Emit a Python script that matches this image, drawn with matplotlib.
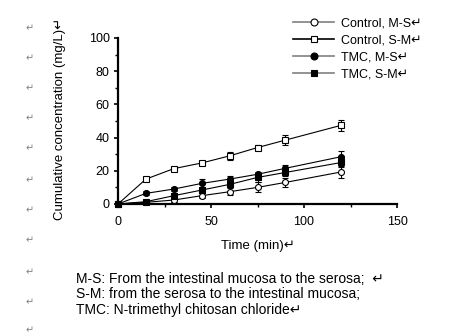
import matplotlib
matplotlib.use('Agg')
import matplotlib.pyplot as plt
from matplotlib.lines import Line2D
from matplotlib.ticker import MultipleLocator

plt.rcParams['font.family'] = ['Liberation Sans', 'DejaVu Sans']
plt.rcParams['font.size'] = 9

# Datos
tiempo = [0, 15, 30, 45, 60, 75, 90, 120]
control_ms = [0, 1.0, 2.4, 5.0, 7.4, 10.0, 13.0, 19.3]
control_ms_err = [0, 0.5, 1.0, 1.5, 2.0, 3.0, 2.5, 3.5]
control_sm = [0, 15.0, 21.3, 24.7, 29.0, 34.0, 38.5, 47.4]
control_sm_err = [0, 0.8, 1.0, 1.5, 2.5, 1.5, 3.0, 3.5]
tmc_ms = [0, 6.4, 9.0, 12.4, 15.0, 17.9, 21.5, 28.5]
tmc_ms_err = [0, 1.2, 1.2, 2.5, 2.0, 1.5, 1.8, 3.5]
tmc_sm = [0, 1.4, 5.0, 8.4, 11.8, 16.0, 19.0, 25.0]
tmc_sm_err = [0, 0.5, 1.5, 2.0, 1.8, 2.5, 2.0, 2.5]

etiquetas = ['Control, M-S\u21b5', 'Control, S-M\u21b5', 'TMC, M-S\u21b5', 'TMC, S-M\u21b5']

fig = plt.figure(figsize=(4.65, 3.36), dpi=100)
ax = fig.add_axes([118/465, 1-204/336, (397-118)/465, (204-38)/336])

series = [
    (control_ms, control_ms_err, 'o', 'white'),
    (control_sm, control_sm_err, 's', 'white'),
    (tmc_ms, tmc_ms_err, 'o', 'black'),
    (tmc_sm, tmc_sm_err, 's', 'black'),
]
for y, err, m, fc in series:
    ax.errorbar(tiempo, y, yerr=err, marker=m, mfc=fc, mec='black', ms=4.3,
                color='black', lw=0.8, elinewidth=0.8, capsize=2, capthick=0.8,
                mew=0.8, clip_on=False, zorder=3)

ax.set_xlim(0, 150)
ax.set_ylim(0, 100)
ax.xaxis.set_major_locator(MultipleLocator(50))
ax.xaxis.set_minor_locator(MultipleLocator(25))
ax.yaxis.set_major_locator(MultipleLocator(20))
ax.yaxis.set_minor_locator(MultipleLocator(10))
ax.spines['top'].set_visible(False)
ax.spines['right'].set_visible(False)
ax.spines['left'].set_linewidth(1.6)
ax.spines['bottom'].set_linewidth(1.6)
ax.tick_params(which='major', length=3, width=1.2, direction='out', pad=3, labelsize=9)
ax.tick_params(which='minor', length=2, width=1, direction='out')
ax.tick_params(axis='x', pad=6)

ax.set_xlabel('Time (min)\u21b5', labelpad=8, fontsize=9.5)
ax.set_ylabel('Cumulative concentration (mg/L)\u21b5', fontsize=9.5)
ax.yaxis.set_label_coords(-0.185, 0.51)

# Leyenda
colores = ['gray', 'black', 'gray', 'gray']
handles = []
for (y, err, m, fc), c in zip(series, colores):
    handles.append(Line2D([0], [0], color=c, lw=1.2, marker=m, mfc=fc,
                          mec='black', ms=5, mew=0.8))
fig.legend(handles, etiquetas, loc='upper left', bbox_to_anchor=(293/465, 1-17/336),
           frameon=False, handlelength=3.3, handletextpad=0.55, labelspacing=0.42,
           borderpad=0, borderaxespad=0, fontsize=9)

# Notas al pie
notas = ['M-S: From the intestinal mucosa to the serosa;  \u21b5',
         'S-M: from the serosa to the intestinal mucosa;',
         'TMC: N-trimethyl chitosan chloride\u21b5']
for i, t in enumerate(notas):
    fig.text(76/465, 1-(279+i*15.5)/336, t, va='center', ha='left', fontsize=10)

# Marcas de parrafo a la izquierda
for yy in [28, 58, 88, 118, 148, 180, 210, 240, 272, 302, 330]:
    fig.text(30/465, 1-yy/336, '\u21b5', va='center', ha='center', fontsize=7, color='gray')

fig.savefig('out.png', dpi=100)
